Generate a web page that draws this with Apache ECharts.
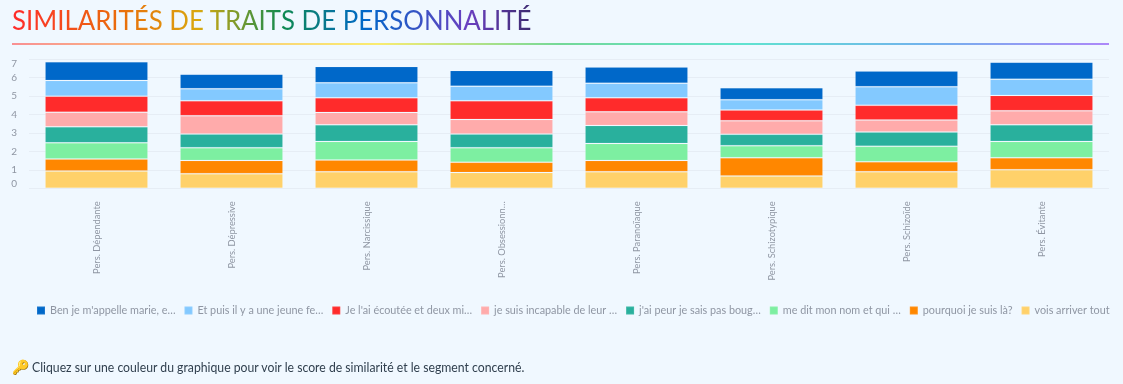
<!DOCTYPE html>
<html>
<head>
<meta charset="utf-8">
<script src="https://cdn.jsdelivr.net/npm/echarts@6/dist/echarts.min.js"></script>
<style>
  html, body { margin: 0; padding: 0; width: 1123px; height: 384px; overflow: hidden; background: #f0f8ff; font-family: Lato, sans-serif; }
  #title { position: absolute; left: 12px; top: 2px; margin: 0; font-size: 27px; line-height: 36px; font-weight: 400; white-space: nowrap;
    transform: scaleX(0.956); transform-origin: left center;
    background: linear-gradient(90deg, #ff2b2b 0%, #e8710a 22%, #d9a80f 36%, #0f8a4f 52%, #0068c9 68%, #6a3fc0 88%, #3d2a70 100%);
    -webkit-background-clip: text; background-clip: text; color: transparent; }
  #rule { position: absolute; left: 12px; top: 43px; width: 1097px; height: 2px; opacity: 0.6;
    background: linear-gradient(90deg, #ff4b4b, #ffa421, #ffe312, #21c354, #00d4b1, #1c83e1, #803df5); }
  #chart { position: absolute; left: 0; top: 50px; width: 1123px; height: 280px; }
  #key { position: absolute; left: 12px; top: 357px; font-size: 14px; line-height: 20px; }
  #hint { position: absolute; left: 32px; top: 357px; font-size: 14px; line-height: 20px; color: #31404f; white-space: nowrap;
    transform: scaleX(0.873); transform-origin: left center; }
</style>
</head>
<body>
<h1 id="title">SIMILARITÉS DE TRAITS DE PERSONNALITÉ</h1>
<div id="rule"></div>
<div id="chart"></div>
<div id="key">🔑</div>
<div id="hint">Cliquez sur une couleur du graphique pour voir le score de similarité et le segment concerné.</div>
<script>
var categories = ["Pers. Dépendante", "Pers. Dépressive", "Pers. Narcissique", "Pers. Obsessionn…", "Pers. Paranoïaque", "Pers. Schizotypique", "Pers. Schizoïde", "Pers. Évitante"];

// stacked from the bottom up
var vois      = [0.94, 0.79, 0.90, 0.85, 0.90, 0.67, 0.90, 1.01];
var pourquoi  = [0.65, 0.72, 0.63, 0.56, 0.61, 0.99, 0.54, 0.65];
var meDit     = [0.87, 0.69, 1.01, 0.79, 0.92, 0.65, 0.83, 0.88];
var jaiPeur   = [0.87, 0.74, 0.90, 0.74, 0.97, 0.61, 0.78, 0.90];
var jeSuis    = [0.79, 0.99, 0.67, 0.79, 0.74, 0.74, 0.65, 0.76];
var jeLai     = [0.87, 0.81, 0.79, 1.01, 0.76, 0.58, 0.79, 0.83];
var etPuis    = [0.85, 0.65, 0.81, 0.79, 0.79, 0.56, 1.01, 0.88];
var ben       = [1.01, 0.79, 0.88, 0.85, 0.88, 0.65, 0.85, 0.92];

var legendNames = ["Ben je m'appelle marie, e…", "Et puis il y a une jeune fe…", "Je l'ai écoutée et deux mi…", "je suis incapable de leur …", "j'ai peur je sais pas boug…", "me dit mon nom et qui …", "pourquoi je suis là?", "vois arriver tout"];
var colors = ["#0068c9", "#83c9ff", "#ff2b2b", "#ffabab", "#29b09d", "#7defa1", "#ff8700", "#ffd16a"];
var stackOrder = [ben, etPuis, jeLai, jeSuis, jaiPeur, meDit, pourquoi, vois];

var chart = echarts.init(document.getElementById("chart"), null, { renderer: "canvas" });

// last name in the legend is the bottom of the stack, so walk backwards
var series = [];
for (var i = legendNames.length - 1; i >= 0; i--) {
  series.push({
    name: legendNames[i],
    type: "bar",
    stack: "traits",
    barWidth: 103,
    data: stackOrder[i],
    itemStyle: { color: colors[i], borderColor: "rgba(255,255,255,0.1)", borderWidth: 1 }
  });
}

chart.setOption({
  animation: false,
  color: colors,
  textStyle: { fontFamily: "Lato" },
  grid: { left: 29, right: 14, top: 9, bottom: 141.7 },
  legend: {
    data: legendNames,
    left: 31,
    width: 1090,
    top: 250,
    itemWidth: 8,
    itemHeight: 8,
    itemGap: 8,
    icon: "rect",
    selectedMode: false,
    textStyle: { color: "#8f96a3", fontSize: 10.8, fontFamily: "Lato" }
  },
  xAxis: {
    type: "category",
    data: categories,
    axisLine: { show: false },
    axisTick: { show: false },
    axisLabel: { rotate: 90, color: "#8f96a3", fontSize: 9.3, margin: 13, interval: 0, fontFamily: "Lato" }
  },
  yAxis: {
    type: "value",
    min: 0,
    max: 7,
    interval: 1,
    axisLine: { show: false },
    axisTick: { show: false },
    splitLine: { lineStyle: { color: "#e6edf5", width: 1 } },
    axisLabel: { color: "#8f96a3", fontSize: 10, margin: 12, verticalAlignMinLabel: "bottom", verticalAlignMaxLabel: "top", fontFamily: "Lato" }
  },
  series: series
});
window.addEventListener("resize", function () { chart.resize(); });
</script>
</body>
</html>
